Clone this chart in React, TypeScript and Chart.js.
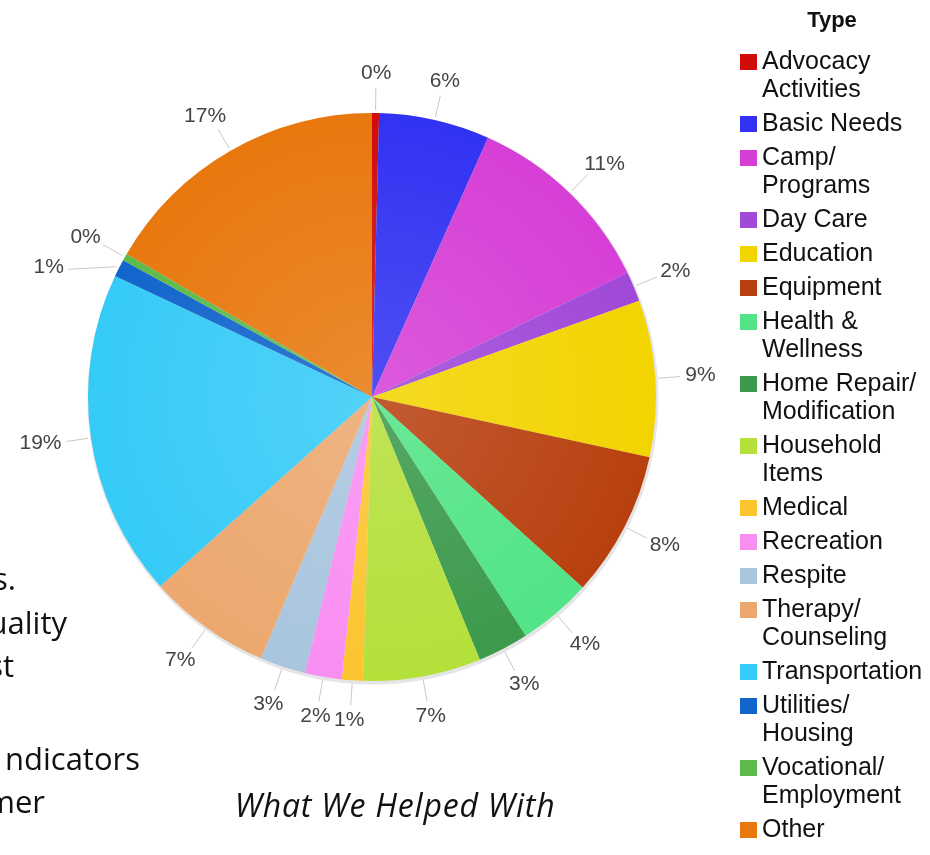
import React, { useEffect, useRef } from "react";
import { Chart, registerables } from "chart.js";

Chart.register(...registerables);

// ---- data ----
const categories = [
  "Advocacy\nActivities",
  "Basic Needs",
  "Camp/\nPrograms",
  "Day Care",
  "Education",
  "Equipment",
  "Health &\nWellness",
  "Home Repair/\nModification",
  "Household\nItems",
  "Medical",
  "Recreation",
  "Respite",
  "Therapy/\nCounseling",
  "Transportation",
  "Utilities/\nHousing",
  "Vocational/\nEmployment",
  "Other",
];
const values = [0.4, 6.3, 11.1, 1.7, 8.9, 8.3, 4.2, 2.9, 6.7, 1.2, 2.1, 2.6, 7.0, 18.6, 1.0, 0.4, 16.6];
const colors = [
  "#d00c0c",
  "#3232f2",
  "#d63fd6",
  "#a048d8",
  "#f2d400",
  "#b8400f",
  "#52e486",
  "#3c9a4c",
  "#b4e03a",
  "#fbc530",
  "#f98ef2",
  "#a9c5de",
  "#eca86f",
  "#36cbf7",
  "#1265cc",
  "#5cbb4a",
  "#e8780e",
];
const legendTitle = "Type";
const chartTitle = "What We Helped With";
const sideTextLines = ["s.", "uality", "st", "ndicators", "mer"];

function mixWhite(hex: string, t: number) {
  const n = parseInt(hex.slice(1), 16);
  const r = (n >> 16) & 255, g = (n >> 8) & 255, b = n & 255;
  const m = (c: number) => Math.round(c + (255 - c) * t);
  return `rgb(${m(r)},${m(g)},${m(b)})`;
}

const decorPlugin = {
  id: "decor",
  beforeDatasetsDraw(chart: any) {
    // faint shadow ring around the pie
    const a = chart.chartArea;
    const ctx = chart.ctx;
    const cx = (a.left + a.right) / 2, cy = (a.top + a.bottom) / 2;
    const rr = Math.min(a.right - a.left, a.bottom - a.top) / 2;
    ctx.save();
    ctx.beginPath();
    ctx.arc(cx + 1, cy + 2, rr + 1.5, 0, Math.PI * 2);
    ctx.fillStyle = "rgba(0,0,0,0.10)";
    ctx.fill();
    ctx.restore();
  },
  afterDatasetsDraw(chart: any) {
    const ctx = chart.ctx;
    const meta = chart.getDatasetMeta(0);
    const total = values.reduce((a, b) => a + b, 0);
    ctx.save();
    ctx.font = "21px 'Liberation Sans', Arial, sans-serif";
    const items = meta.data.map((arc: any, i: number) => {
      const p = arc.getProps(["x", "y", "startAngle", "endAngle", "outerRadius"], true);
      const mid = (p.startAngle + p.endAngle) / 2;
      const dx = Math.cos(mid), dy = Math.sin(mid);
      const r = p.outerRadius;
      const label = Math.round((values[i] / total) * 100) + "%";
      const w = ctx.measureText(label).width;
      return {
        p, dx, dy, r, label, w,
        tx: p.x + dx * (r + 28) + dx * (w / 2 + 2),
        ty: p.y + dy * (r + 28) + dy * 12,
        adjusted: false,
      };
    });
    // simple collision avoidance on each side
    const resolve = (list: any[], side: number) => {
      list.sort((a, b) => a.ty - b.ty);
      for (let k = 1; k < list.length; k++) {
        if (list[k].ty - list[k - 1].ty < 28) {
          list[k].ty = list[k - 1].ty + 30;
          list[k].tx += side * 30;
          list[k].adjusted = true;
        }
      }
    };
    resolve(items.filter((it: any) => it.dx < -0.3), -1);
    resolve(items.filter((it: any) => it.dx > 0.3), 1);

    items.forEach((it: any) => {
      const { p, dx, dy, r } = it;
      ctx.strokeStyle = "#c8c8c8";
      ctx.lineWidth = 1;
      ctx.beginPath();
      ctx.moveTo(p.x + dx * (r + 3), p.y + dy * (r + 3));
      if (it.adjusted) {
        const side = dx < 0 ? 1 : -1;
        ctx.lineTo(it.tx + side * (it.w / 2 + 4), it.ty + 2);
      } else {
        ctx.lineTo(p.x + dx * (r + 25), p.y + dy * (r + 25));
      }
      ctx.stroke();
      ctx.fillStyle = "#444";
      ctx.textAlign = "center";
      ctx.textBaseline = "middle";
      ctx.fillText(it.label, it.tx, it.ty);
    });

    // legend
    ctx.fillStyle = "#111";
    ctx.font = "bold 22px 'Liberation Sans', Arial, sans-serif";
    ctx.textAlign = "center";
    ctx.textBaseline = "middle";
    ctx.fillText(legendTitle, 832, 21);
    let y = 62;
    ctx.font = "25px 'Liberation Sans', Arial, sans-serif";
    ctx.textAlign = "left";
    categories.forEach((c, i) => {
      const lines = c.split("\n");
      ctx.fillStyle = colors[i];
      ctx.fillRect(740, y - 8, 17, 16);
      ctx.fillStyle = "#111";
      lines.forEach((ln, k) => ctx.fillText(ln, 762, y + k * 28));
      y += lines.length > 1 ? 62 : 34;
    });

    // chart title
    ctx.font = "italic 32px 'Open Sans', sans-serif";
    (ctx as any).letterSpacing = "0.8px";
    ctx.textAlign = "center";
    ctx.textBaseline = "alphabetic";
    ctx.fillStyle = "#111";
    ctx.fillText(chartTitle, 395, 817);
    (ctx as any).letterSpacing = "0px";

    // cropped side text
    ctx.font = "31px 'Open Sans', sans-serif";
    ctx.textAlign = "right";
    const rights = [16, 67, 14, 140, 45];
    const bases = [590, 634, 677, 770, 813];
    sideTextLines.forEach((t, i) => ctx.fillText(t, rights[i], bases[i]));
    ctx.restore();
  },
};

export default function App() {
  const ref = useRef<HTMLCanvasElement | null>(null);
  useEffect(() => {
    if (!ref.current) return;
    const chart = new Chart(ref.current, {
      type: "pie",
      data: {
        labels: categories.map((c) => c.replace("\n", " ")),
        datasets: [
          {
            data: values,
            borderWidth: 0,
            backgroundColor: (c: any) => {
              const ch = c.chart;
              const a = ch.chartArea;
              const col = colors[c.dataIndex] || "#999";
              if (!a) return col;
              const cx = (a.left + a.right) / 2, cy = (a.top + a.bottom) / 2;
              const rr = Math.min(a.right - a.left, a.bottom - a.top) / 2;
              const g = ch.ctx.createRadialGradient(cx, cy, 0, cx, cy, rr);
              g.addColorStop(0, mixWhite(col, 0.14));
              g.addColorStop(1, col);
              return g;
            },
          },
        ],
      },
      options: {
        responsive: false,
        animation: false,
        layout: { padding: { left: 88, right: 274, top: 113, bottom: 174 } },
        plugins: { legend: { display: false }, tooltip: { enabled: false }, title: { display: false } },
      },
      plugins: [decorPlugin],
    });
    return () => chart.destroy();
  }, []);
  return (
    <div style={{ position: "fixed", left: 0, top: 0, width: 930, height: 855, background: "#fff" }}>
      <canvas ref={ref} width={930} height={855} style={{ width: 930, height: 855 }} />
    </div>
  );
}
